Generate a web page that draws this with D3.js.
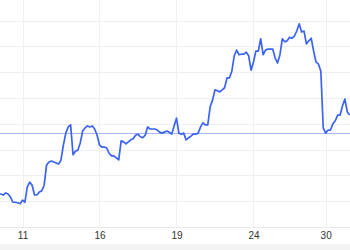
<!DOCTYPE html>
<html>
<head>
<meta charset="utf-8">
<script src="https://cdn.jsdelivr.net/npm/d3@7"></script>
<style>
  html, body { margin: 0; padding: 0; background: #fff; }
  svg { display: block; }
</style>
</head>
<body>
<svg id="chart" width="350" height="250"></svg>
<script>
// Price series, one value per sample (index-based x axis)
const prices = [
  106.4,106.4,106.2,106.6,106.4,105.8,104.8,104.8,104.7,104.5,
  105.2,104.8,107.8,108.7,108.1,106.2,106.2,106.8,107.0,108.1,
  112.0,112.6,112.8,112.6,112.4,112.2,113.0,115.9,118.2,119.4,
  119.8,114.0,114.7,114.9,116.3,118.6,119.2,119.6,119.4,119.6,
  119.0,117.8,115.9,115.5,115.5,115.3,114.3,113.8,113.8,113.4,
  113.0,116.7,116.5,116.1,116.5,116.9,117.1,117.8,118.0,117.5,
  117.3,117.8,119.4,119.0,119.0,119.0,118.8,118.4,118.2,118.4,
  118.6,118.4,118.0,119.6,121.1,118.2,118.0,118.2,116.9,117.3,
  117.6,118.0,118.0,118.2,119.4,120.2,119.8,119.8,123.3,124.6,
  126.6,126.4,126.2,126.6,127.0,128.9,128.9,130.2,133.2,134.3,
  133.4,133.5,133.5,133.9,133.2,130.4,132.0,134.1,134.1,136.5,
  133.4,134.3,134.5,134.5,134.5,132.8,131.8,133.4,136.5,135.9,
  136.1,136.8,136.6,137.0,138.0,139.4,137.8,138.0,135.5,136.1,
  136.6,134.1,132.0,131.6,130.2,119.2,118.2,118.8,118.8,120.0,
  120.6,121.7,121.7,123.5,124.8,122.3,121.7
];
// Reference level (previous close)
const referenceLevel = [118.2];
// X tick positions (sample index) and labels
const tickIndex  = [10, 42, 74, 106, 136];
const tickLabels = ["11", "16", "19", "24", "30"];
// Y grid values
const gridValues = [100, 105, 110, 115, 120, 125, 130, 135, 140];

const W = 350, H = 250;
const plotBottom = 227;
const svg = d3.select("#chart");

const x = d3.scaleLinear().domain([0, 10]).range([-1.56, 22.5]);
const y = d3.scaleLinear().domain([100, 140]).range([plotBottom, 20.7]);

// bottom band
svg.append("rect").attr("x", 0).attr("y", 244).attr("width", W).attr("height", H - 244)
  .attr("fill", "#f3f3f3");

// clip for plot
svg.append("clipPath").attr("id", "plotclip")
  .append("rect").attr("x", 0).attr("y", 0).attr("width", W).attr("height", plotBottom);

// horizontal grid
svg.append("g").selectAll("line").data(gridValues).join("line")
  .attr("x1", 0).attr("x2", W)
  .attr("y1", d => Math.round(y(d)) + 0.5).attr("y2", d => Math.round(y(d)) + 0.5)
  .attr("stroke", d => d === 100 ? "#e8e8e8" : "#efefef")
  .attr("stroke-width", 1);

// vertical grid
svg.append("g").selectAll("line").data(tickIndex).join("line")
  .attr("x1", d => Math.round(x(d)) + 0.5).attr("x2", d => Math.round(x(d)) + 0.5)
  .attr("y1", 0).attr("y2", plotBottom)
  .attr("stroke", "#f0f2f2").attr("stroke-width", 1);

// reference line
svg.append("g").selectAll("line").data(referenceLevel).join("line")
  .attr("x1", 0).attr("x2", W)
  .attr("y1", d => Math.round(y(d)) + 0.5).attr("y2", d => Math.round(y(d)) + 0.5)
  .attr("stroke", "#a8b8f6").attr("stroke-width", 1);

// price line
const line = d3.line().x((d, i) => x(i)).y(d => y(d));
svg.append("path").datum(prices)
  .attr("clip-path", "url(#plotclip)")
  .attr("d", line)
  .attr("fill", "none")
  .attr("stroke", "#3b63f3")
  .attr("stroke-width", 1.7)
  .attr("stroke-linejoin", "round");

// x axis labels
const axis = d3.axisBottom(x).tickValues(tickIndex)
  .tickFormat((d, i) => tickLabels[i]).tickSize(0).tickPadding(5);
const gx = svg.append("g").attr("transform", `translate(0,${plotBottom})`).call(axis);
gx.select(".domain").remove();
gx.selectAll("text")
  .attr("font-family", "Liberation Sans, Arial, sans-serif")
  .attr("font-size", 10)
  .attr("fill", "#333");
</script>
</body>
</html>
